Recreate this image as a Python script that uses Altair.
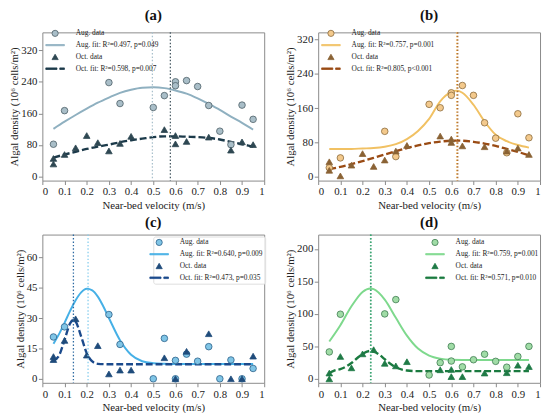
import altair as alt
import pandas as pd

FONT = "Liberation Serif"
X_TICKS = [0, 0.1, 0.2, 0.3, 0.4, 0.5, 0.6, 0.7, 0.8, 0.9, 1.0]
X_TITLE = "Near-bed velocity (m/s)"
Y_TITLE = "Algal density (10\u2076 cells/m\u00b2)"

# ---------------- (a) ----------------
A_AUG_X = [0.05, 0.1, 0.3, 0.35, 0.5, 0.55, 0.6, 0.6, 0.65, 0.7, 0.75, 0.8, 0.85, 0.9, 0.95]
A_AUG_Y = [82, 167, 238, 185, 175, 205, 240, 230, 243, 228, 180, 115, 81, 181, 145]
A_OCT_X = [0.05, 0.05, 0.1, 0.15, 0.2, 0.25, 0.3, 0.35, 0.4, 0.55, 0.6, 0.6, 0.65, 0.75, 0.85, 0.9, 0.95]
A_OCT_Y = [46, 32, 56, 73, 104, 86, 65, 84, 102, 119, 104, 83, 89, 100, 67, 88, 81]
A_AUG_FIT_X = [0.05, 0.1, 0.15, 0.2, 0.25, 0.3, 0.35, 0.4, 0.45, 0.5, 0.55, 0.6, 0.65, 0.7, 0.75, 0.8, 0.85, 0.9, 0.95]
A_AUG_FIT_Y = [121, 139, 156, 172, 187, 200, 212, 220, 225, 226, 224, 218, 210, 198, 184, 169, 152, 136, 119]
A_OCT_FIT_X = [0.05, 0.1, 0.15, 0.2, 0.25, 0.3, 0.35, 0.4, 0.45, 0.5, 0.55, 0.6, 0.65, 0.7, 0.75, 0.8, 0.85, 0.9, 0.95]
A_OCT_FIT_Y = [48, 56, 63, 70, 76, 81, 87, 92, 96, 100, 102, 102, 101, 100, 98, 94, 88, 82, 76]
A_PEAKS = [0.496, 0.577]
A_LABELS = ["Aug. data", "Aug. fit: R\u00b2=0.497, p=0.049", "Oct. data", "Oct. fit: R\u00b2=0.598, p=0.007"]
A_YDOM = [-10, 365]
A_YTICKS = [0, 80, 160, 240, 320]

# ---------------- (b) ----------------
B_AUG_X = [0.05, 0.1, 0.3, 0.35, 0.5, 0.55, 0.6, 0.6, 0.65, 0.7, 0.75, 0.8, 0.85, 0.9, 0.95]
B_AUG_Y = [21, 44, 106, 47, 169, 161, 196, 190, 213, 190, 126, 90, 56, 147, 91]
B_OCT_X = [0.05, 0.05, 0.1, 0.15, 0.2, 0.25, 0.3, 0.35, 0.4, 0.55, 0.6, 0.6, 0.65, 0.75, 0.85, 0.9, 0.95]
B_OCT_Y = [35, 15, 2, 27, 54, 24, 39, 60, 73, 95, 88, 80, 72, 70, 60, 67, 52]
B_AUG_FIT_X = [0.05, 0.1, 0.15, 0.2, 0.25, 0.3, 0.35, 0.4, 0.45, 0.5, 0.55, 0.6, 0.625, 0.65, 0.7, 0.75, 0.8, 0.85, 0.9, 0.95]
B_AUG_FIT_Y = [65, 65, 65, 66, 67, 70, 76, 88, 107, 135, 176, 198, 201, 196, 168, 129, 98, 83, 74, 68]
B_OCT_FIT_X = [0.05, 0.1, 0.15, 0.2, 0.25, 0.3, 0.35, 0.4, 0.45, 0.5, 0.55, 0.6, 0.625, 0.65, 0.7, 0.75, 0.8, 0.85, 0.9, 0.95]
B_OCT_FIT_Y = [18, 23, 29.5, 36.5, 44, 52, 59.5, 67, 73, 78.5, 82, 84, 84.3, 84, 81.5, 77.5, 72, 65, 58, 50]
B_PEAKS = [0.624, 0.629]
B_LABELS = ["Aug. data", "Aug. fit: R\u00b2=0.757, p=0.001", "Oct. data", "Oct. fit: R\u00b2=0.805, p<0.001"]
B_YDOM = [-9, 337]
B_YTICKS = [0, 80, 160, 240, 320]

# ---------------- (c) ----------------
C_AUG_X = [0.05, 0.1, 0.3, 0.35, 0.5, 0.55, 0.6, 0.6, 0.65, 0.7, 0.75, 0.8, 0.85, 0.9, 0.95]
C_AUG_Y = [20.7, 25.7, 31.8, 17, 0, 20, 9.1, 0, 12.2, 8.7, 15.9, 0, 9.3, 0, 5.1]
C_OCT_X = [0.05, 0.05, 0.1, 0.15, 0.2, 0.25, 0.3, 0.35, 0.4, 0.55, 0.6, 0.65, 0.75, 0.85, 0.9, 0.95]
C_OCT_Y = [11, 9.5, 19, 29.7, 11.7, 16.4, 2.4, 4.3, 4.3, 10.4, 0, 13.6, 22.3, 0, 0, 11.2]
C_AUG_FIT_X = [0.05, 0.075, 0.1, 0.125, 0.15, 0.175, 0.2, 0.225, 0.25, 0.275, 0.3, 0.35, 0.4, 0.45, 0.5, 0.55, 0.6, 0.7, 0.8, 0.9, 0.95]
C_AUG_FIT_Y = [17.3, 22.1, 27.7, 33.6, 38.9, 42.8, 44.6, 43.8, 40.7, 35.8, 30.1, 19.1, 11.9, 8.7, 7.7, 7.4, 7.3, 7.3, 7.3, 7.3, 7.3]
C_OCT_FIT_X = [0.05, 0.075, 0.1, 0.125, 0.14, 0.15, 0.175, 0.2, 0.225, 0.25, 0.3, 0.4, 0.5, 0.6, 0.7, 0.8, 0.9, 0.95]
C_OCT_FIT_Y = [9.0, 11.5, 19.2, 27.4, 29.2, 28.4, 20.9, 12.7, 8.6, 7.4, 7.2, 7.2, 7.2, 7.2, 7.2, 7.2, 7.2, 7.2]
C_PEAKS = [0.206, 0.14]
C_LABELS = ["Aug. data", "Aug. fit: R\u00b2=0.640, p=0.009", "Oct. data", "Oct. fit: R\u00b2=0.473, p=0.035"]
C_YDOM = [-2, 71.4]
C_YTICKS = [0, 15, 30, 45, 60]

# ---------------- (d) ----------------
D_AUG_X = [0.05, 0.1, 0.3, 0.35, 0.5, 0.55, 0.6, 0.6, 0.65, 0.7, 0.75, 0.8, 0.85, 0.9, 0.95]
D_AUG_Y = [41.5, 99.5, 100, 122, 6, 25, 50, 27.5, 18.5, 29.5, 38, 27, 18, 34.5, 50]
D_OCT_X = [0.05, 0.05, 0.1, 0.15, 0.2, 0.25, 0.3, 0.35, 0.4, 0.55, 0.6, 0.6, 0.65, 0.75, 0.85, 0.9, 0.95]
D_OCT_Y = [9, 0, 34.5, 17, 38.5, 45, 24, 20, 26.5, 14, 14.5, 3.5, 3.5, 9, 9.5, 21, 19]
D_AUG_FIT_X = [0.05, 0.1, 0.15, 0.2, 0.235, 0.25, 0.3, 0.35, 0.4, 0.45, 0.5, 0.55, 0.6, 0.7, 0.8, 0.9, 0.95]
D_AUG_FIT_Y = [57.5, 82.6, 111.7, 133.8, 139, 138, 122, 94, 66.6, 46.7, 35.9, 31.2, 29.6, 29, 29, 29, 29]
D_OCT_FIT_X = [0.05, 0.075, 0.1, 0.125, 0.15, 0.175, 0.2, 0.235, 0.25, 0.275, 0.3, 0.325, 0.35, 0.4, 0.45, 0.5, 0.6, 0.7, 0.8, 0.9, 0.95]
D_OCT_FIT_Y = [9, 13, 15, 18.8, 24.5, 31.8, 38.6, 43, 42.1, 37.4, 30.3, 23.3, 17.9, 13, 12, 12, 12, 12, 12, 12, 12]
D_PEAKS = [0.236, 0.238]
D_LABELS = ["Aug. data", "Aug. fit: R\u00b2=0.759, p=0.001", "Oct. data", "Oct. fit: R\u00b2=0.571, p=0.010"]
D_YDOM = [-6, 222]
D_YTICKS = [0, 50, 100, 150, 200]

# colours: (aug fill, aug edge, aug line, oct fill, oct line, aug peak, oct peak)
A_COL = ["#a9bec8", "#4d5e66", "#8fb0c0", "#2e4752", "#1c3a4a", "#a9c0cc", "#4a5d66"]
B_COL = ["#f3c98c", "#8a6a3c", "#f1c163", "#8a6234", "#9a4b14", "#e7b060", "#a8682c"]
C_COL = ["#80c5e6", "#2b6088", "#46b0e6", "#1f4b7b", "#1b4a8c", "#86cdee", "#2c6aa2"]
D_COL = ["#a0dca6", "#3f7a50", "#7ed98d", "#1f7a46", "#1a7a3f", "#3ea574", "#3ea574"]

# legend symbol paths (line and dashed line glyphs)
LINE_PATH = "M-3,-0.2H3V0.2H-3Z"
DASH_PATH = "M-3,-0.26H0.6V0.26H-3ZM1.5,-0.26H3V0.26H1.5Z"

W, H = 226, 151


def panel(title, aug_x, aug_y, oct_x, oct_y, afx, afy, ofx, ofy, peaks, labels,
          cols, ydom, yticks, lx, ly, boxed):
    pts = pd.DataFrame({
        "x": aug_x + oct_x,
        "y": aug_y + oct_y,
        "s": [labels[0]] * len(aug_x) + [labels[2]] * len(oct_x),
    })
    afit = pd.DataFrame({"x": afx, "y": afy, "s": labels[1]})
    ofit = pd.DataFrame({"x": ofx, "y": ofy, "s": labels[3]})
    pk_a = pd.DataFrame({"x": [peaks[0]]})
    pk_o = pd.DataFrame({"x": [peaks[1]]})

    leg = alt.Legend(title=None, orient="none", legendX=lx, legendY=ly,
                     strokeColor="#dddddd" if boxed else "rgba(0,0,0,0)",
                     fillColor="rgba(255,255,255,0.8)" if boxed else "rgba(255,255,255,0)")
    axis_style = dict(labelFont=FONT, titleFont=FONT, labelFontSize=11, titleFontSize=11,
                      titleFontWeight="normal", labelOverlap=False, format=".2~f")
    xenc = alt.X("x:Q", scale=alt.Scale(domain=[0, 1], nice=False),
                 axis=alt.Axis(values=X_TICKS, title=X_TITLE, titlePadding=3, **axis_style))
    yenc = alt.Y("y:Q", scale=alt.Scale(domain=ydom, nice=False, zero=False),
                 axis=alt.Axis(values=yticks, title=Y_TITLE, titlePadding=1, **axis_style))
    shape_sc = alt.Scale(domain=labels, range=["circle", LINE_PATH, "triangle-up", DASH_PATH])
    fill_sc = alt.Scale(domain=labels, range=[cols[0], cols[2], cols[3], cols[4]])
    stroke_sc = alt.Scale(domain=labels, range=[cols[1], cols[2], cols[3], cols[4]])

    rule_a = alt.Chart(pk_a).mark_rule(color=cols[5], strokeDash=[1.5, 2], strokeWidth=1.3).encode(x=xenc)
    rule_o = alt.Chart(pk_o).mark_rule(color=cols[6], strokeDash=[1.5, 2], strokeWidth=1.3).encode(x=xenc)

    aug_line = alt.Chart(afit).mark_line(strokeWidth=2, interpolate="monotone").encode(
        x=xenc, y=yenc, stroke=alt.Stroke("s:N", scale=stroke_sc, legend=leg))
    oct_line = alt.Chart(ofit).mark_line(strokeWidth=2.4, strokeDash=[7, 3], interpolate="monotone").encode(
        x=xenc, y=yenc, stroke=alt.Stroke("s:N", scale=stroke_sc, legend=leg))
    points = alt.Chart(pts).mark_point(filled=True, size=45, opacity=1, strokeWidth=0.8).encode(
        x=xenc, y=yenc,
        shape=alt.Shape("s:N", scale=shape_sc, legend=leg),
        fill=alt.Fill("s:N", scale=fill_sc, legend=leg),
        stroke=alt.Stroke("s:N", scale=stroke_sc, legend=leg),
    )
    return alt.layer(aug_line, oct_line, points, rule_a, rule_o).properties(
        width=W, height=H, title=title)


pa = panel("(a)", A_AUG_X, A_AUG_Y, A_OCT_X, A_OCT_Y, A_AUG_FIT_X, A_AUG_FIT_Y,
           A_OCT_FIT_X, A_OCT_FIT_Y, A_PEAKS, A_LABELS, A_COL, A_YDOM, A_YTICKS, 7, -5, False)
pb = panel("(b)", B_AUG_X, B_AUG_Y, B_OCT_X, B_OCT_Y, B_AUG_FIT_X, B_AUG_FIT_Y,
           B_OCT_FIT_X, B_OCT_FIT_Y, B_PEAKS, B_LABELS, B_COL, B_YDOM, B_YTICKS, 7, -5, False)
pc = panel("(c)", C_AUG_X, C_AUG_Y, C_OCT_X, C_OCT_Y, C_AUG_FIT_X, C_AUG_FIT_Y,
           C_OCT_FIT_X, C_OCT_FIT_Y, C_PEAKS, C_LABELS, C_COL, C_YDOM, C_YTICKS, 113, 2, True)
pd_ = panel("(d)", D_AUG_X, D_AUG_Y, D_OCT_X, D_OCT_Y, D_AUG_FIT_X, D_AUG_FIT_Y,
            D_OCT_FIT_X, D_OCT_FIT_Y, D_PEAKS, D_LABELS, D_COL, D_YDOM, D_YTICKS, 113, 2, False)

chart = alt.concat(pa, pb, pc, pd_, columns=2, spacing={"row": 3, "column": 18}).resolve_scale(
    x="independent", y="independent", shape="independent", fill="independent", stroke="independent"
).resolve_legend(shape="independent", fill="independent", stroke="independent").properties(
    padding={"left": 0, "top": -4, "right": 0, "bottom": 0}
).configure(
    font=FONT
).configure_view(
    stroke="#8a8a8a", strokeWidth=1
).configure_axis(
    domain=False, grid=False, tickColor="#8a8a8a", tickSize=4, labelOverlap=False,
    labelFont=FONT, labelFontSize=11, labelColor="#222", labelPadding=1.5,
    titleFont=FONT, titleFontSize=11, titleFontWeight="normal", titleColor="#222",
).configure_title(
    font=FONT, fontSize=15, fontWeight="bold", color="#111", offset=0, anchor="middle"
).configure_legend(
    labelFont=FONT, labelFontSize=7.5, labelColor="#222", symbolSize=40,
    symbolStrokeWidth=0.8, labelOffset=17, rowPadding=3, padding=2, cornerRadius=2,
)

chart.save("out.html", embed_options={"renderer": "svg", "actions": False})
